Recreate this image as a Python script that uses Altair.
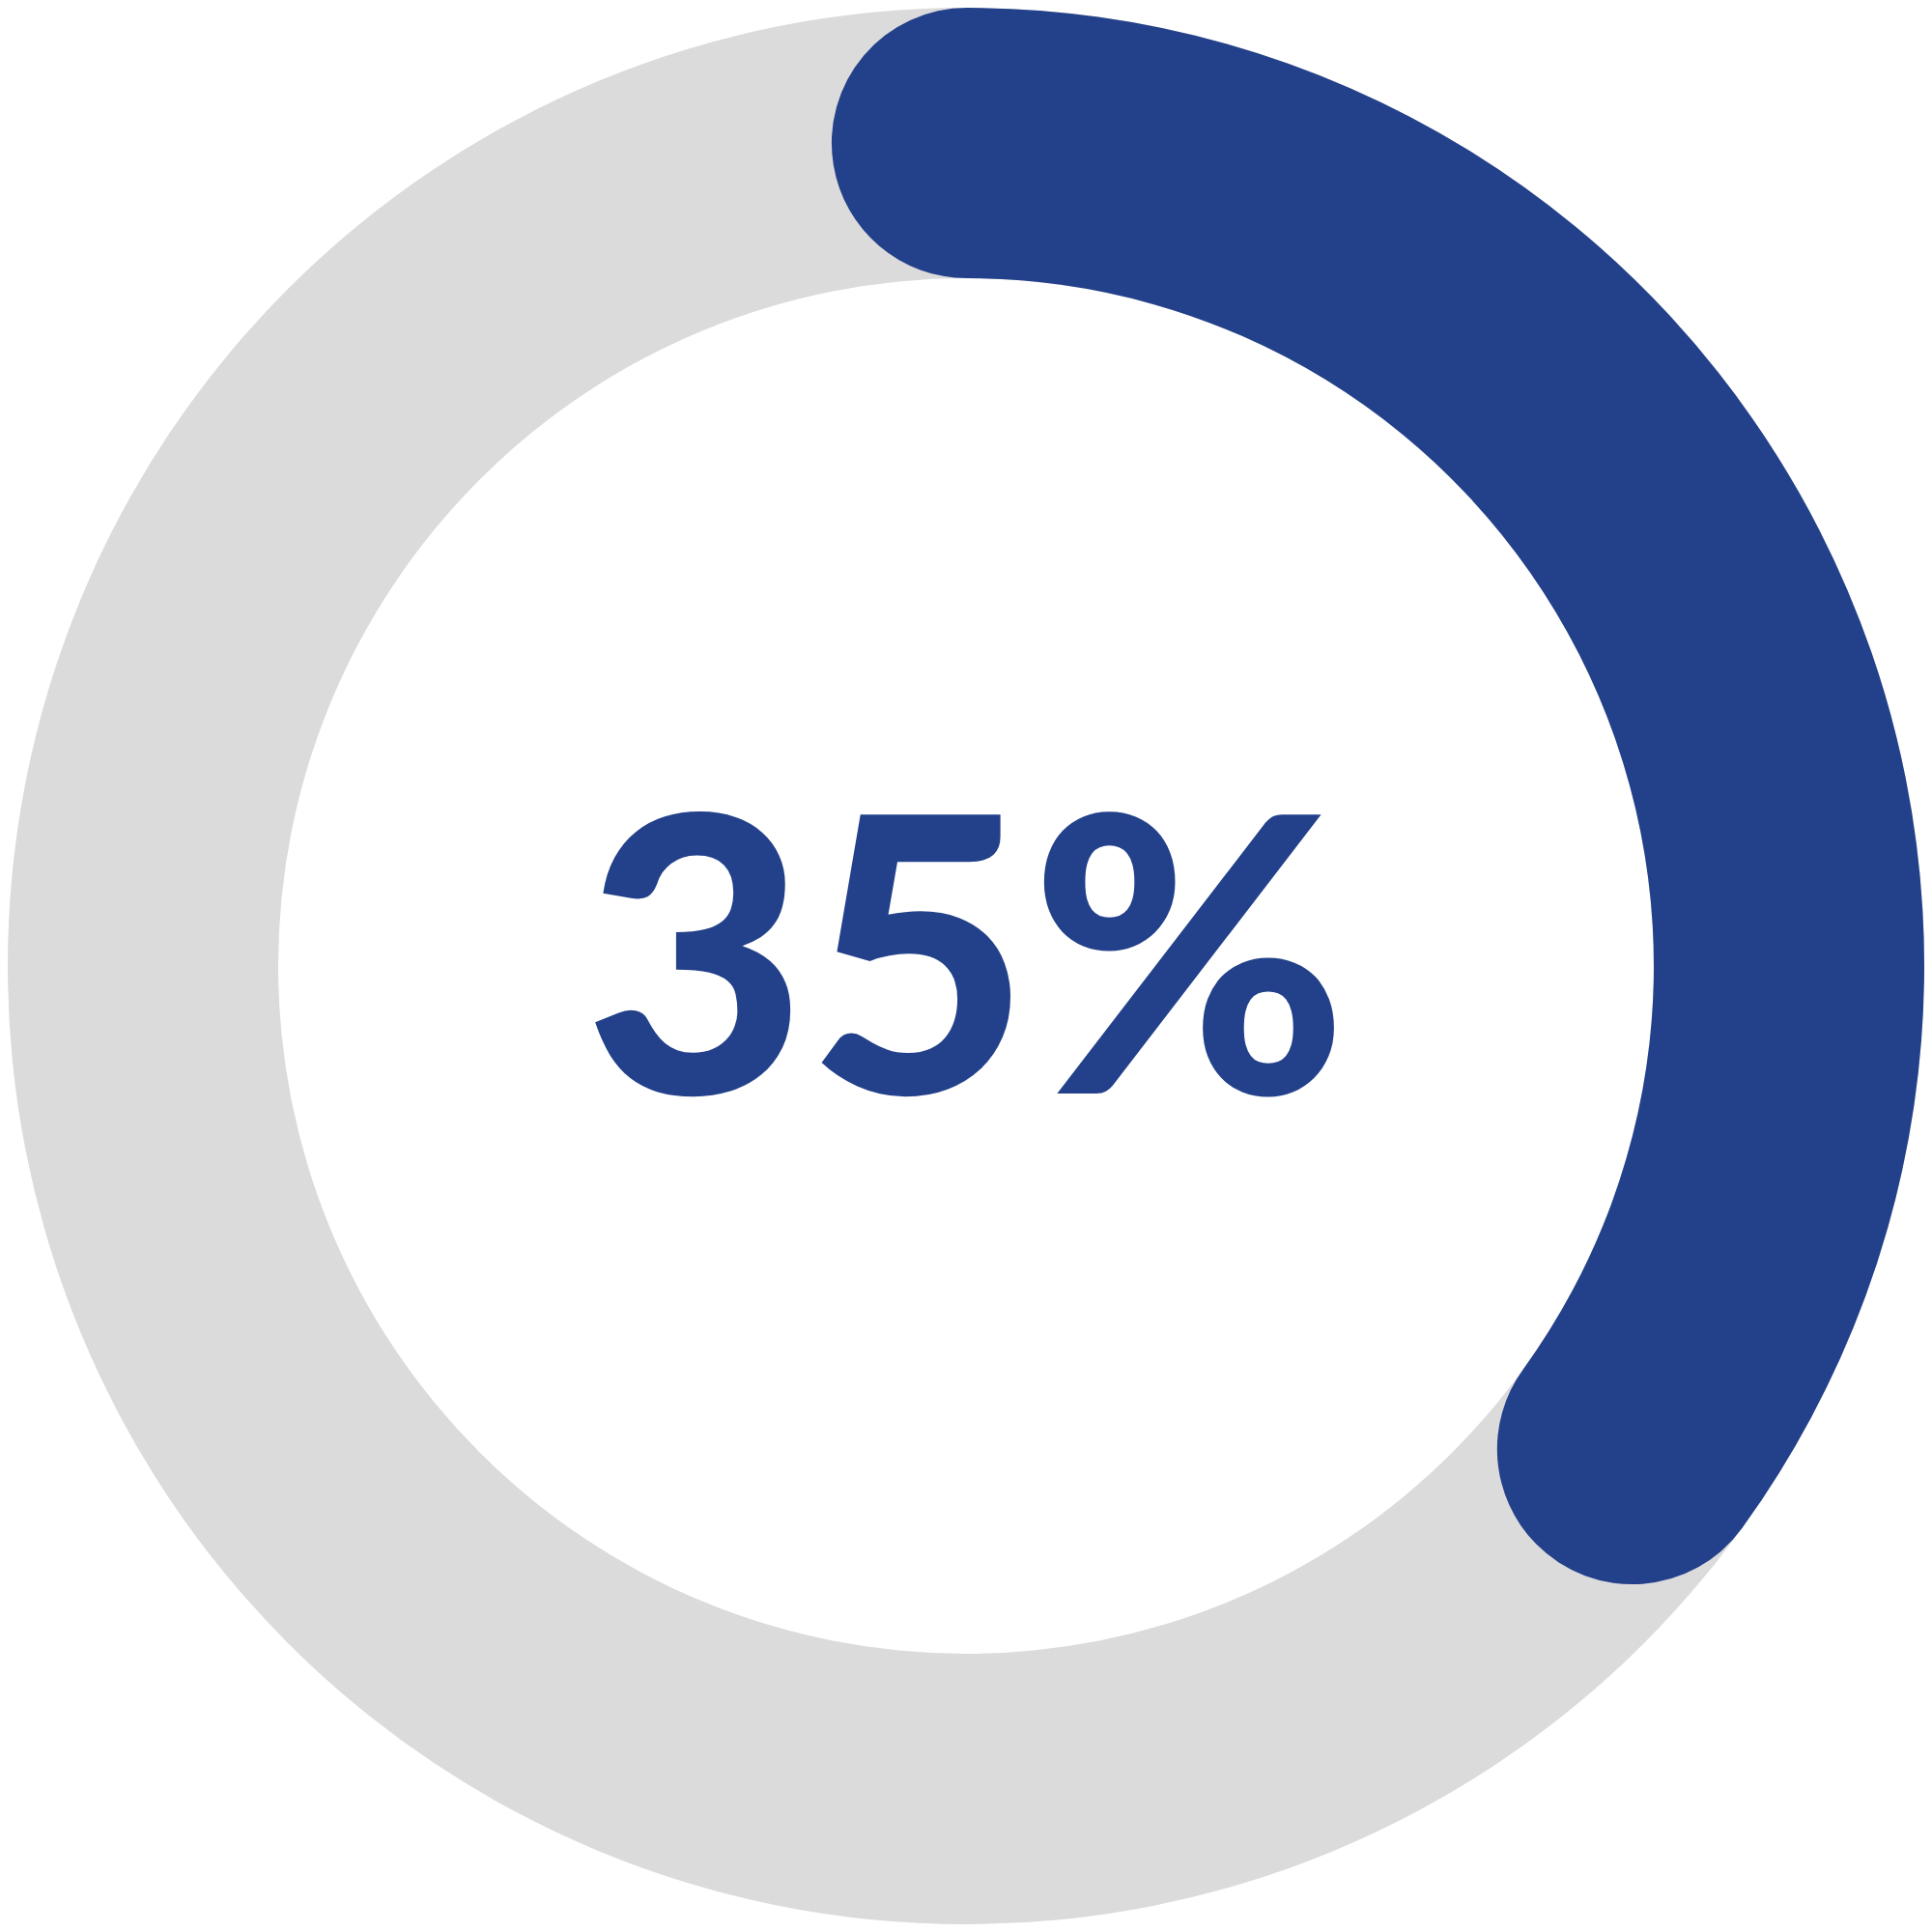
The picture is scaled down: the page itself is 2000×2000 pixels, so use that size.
import altair as alt
import pandas as pd

# Data
share_start = [0]
share_value = [35]
total_value = [100]
share_label = ["35%"]

blue = "#23418A"
gray = "#DCDBDC"

ring_df = pd.DataFrame({"start": [0], "value": total_value})
share_df = pd.DataFrame({"start": share_start, "value": share_value, "label": share_label})

theta_scale = alt.Scale(domain=[0, 100], range=[0, 6.283185307179586])

ring = alt.Chart(ring_df).mark_arc(
    radius=992, radius2=712, color=gray
).encode(
    theta=alt.Theta("start:Q", scale=theta_scale, stack=None),
    theta2="value:Q",
)

share = alt.Chart(share_df).mark_arc(
    radius=992, radius2=712, color=blue, cornerRadius=140,
    thetaOffset=-0.164, theta2Offset=0.164
).encode(
    theta=alt.Theta("start:Q", scale=theta_scale, stack=None),
    theta2="value:Q",
)

label = alt.Chart(share_df).mark_text(
    font="Lato", fontWeight=900, fontSize=398, color=blue,
    baseline="middle", align="center", dy=13
).encode(
    text="label:N"
)

chart = alt.layer(ring, share, label).properties(
    width=1984, height=1984,
    autosize=alt.AutoSizeParams(type="fit", contains="padding"),
    padding=0,
).configure_view(stroke=None).configure(background="white")

chart.save("out.html", embed_options={"renderer": "svg", "actions": False})
